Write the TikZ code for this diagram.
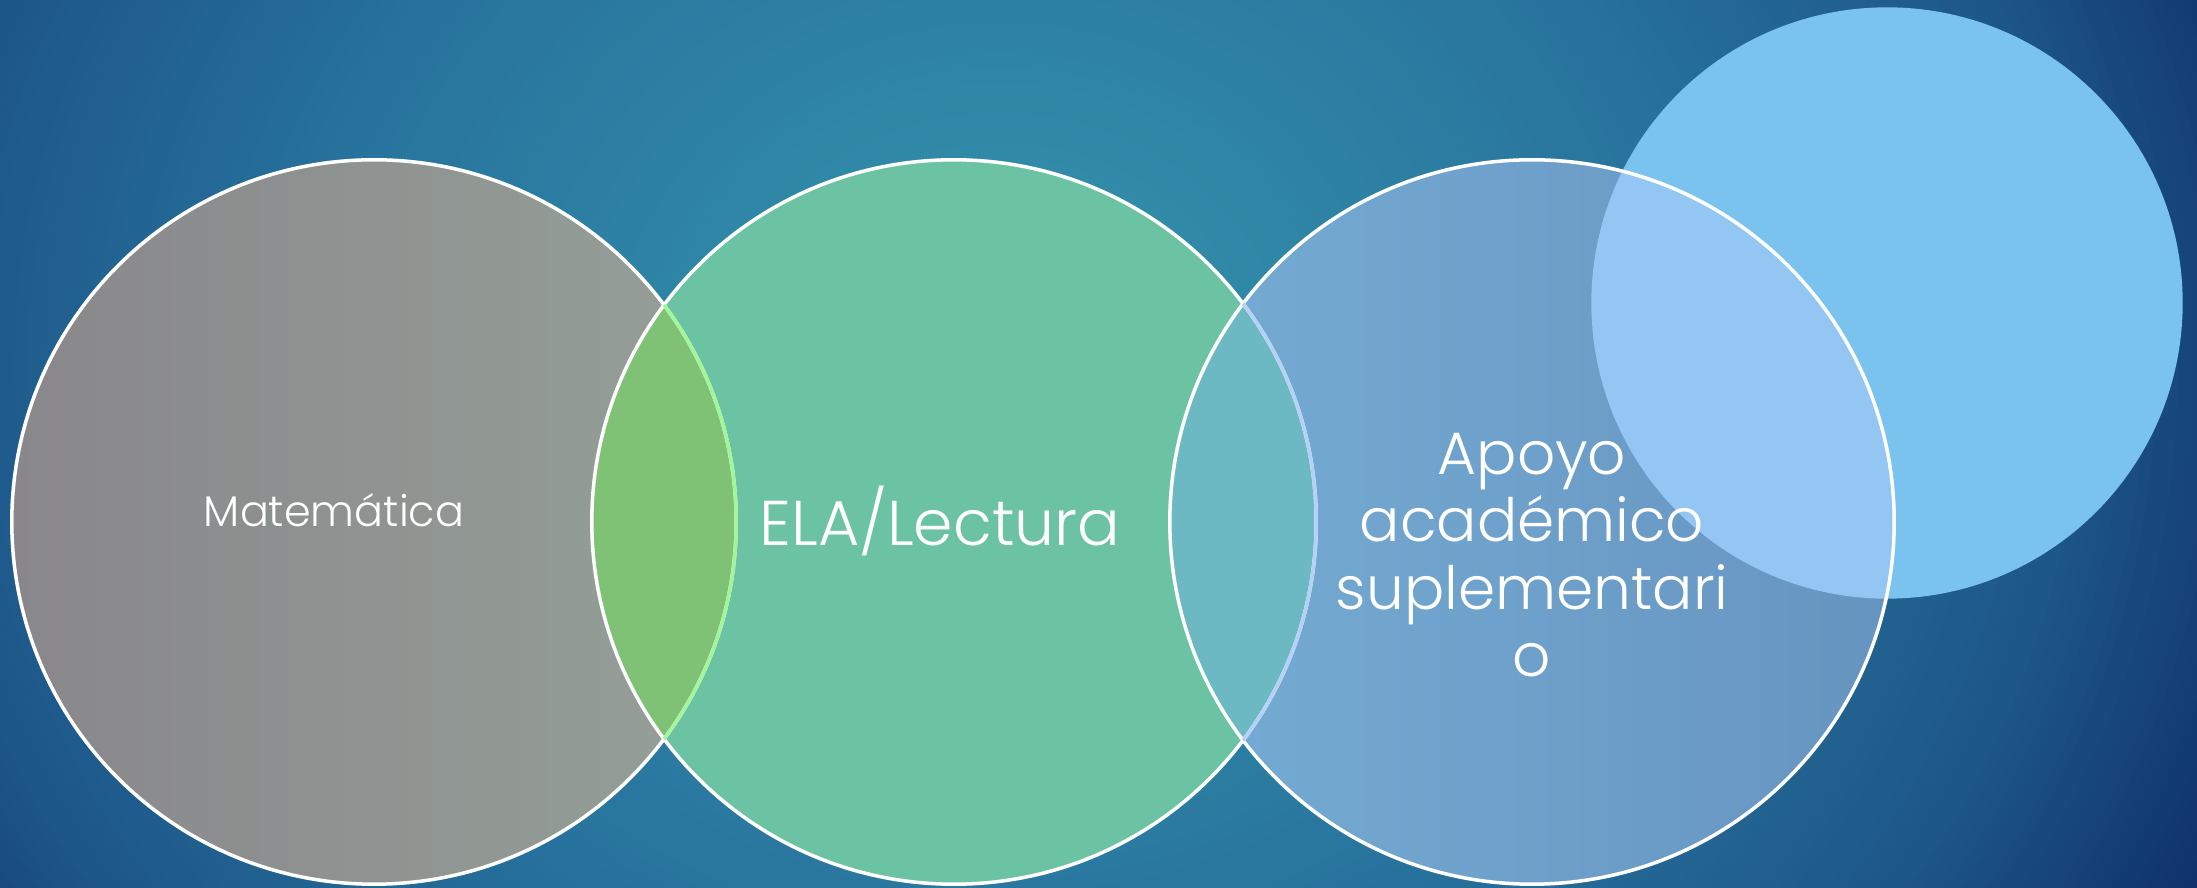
\documentclass[tikz,border=0pt]{standalone}
\usepackage{fontspec}
\newfontfamily\gfont{Poppins}[UprightFont=* Light]
\definecolor{bgout}{HTML}{0F2F69}
\definecolor{bgmid2}{HTML}{1D5688}
\definecolor{bgmid}{HTML}{28749E}
\definecolor{bgin}{HTML}{3596AD}
\definecolor{grayL}{HTML}{89878B}
\definecolor{grayR}{HTML}{95A098}
\definecolor{greenC}{HTML}{6BC3A4}
\definecolor{blueL}{HTML}{75ACD4}
\definecolor{blueR}{HTML}{6694C0}
\definecolor{lightC}{HTML}{7AC3EE}
\definecolor{lensA}{HTML}{80C275}
\definecolor{lensB}{HTML}{6DB9C3}
\definecolor{lensC}{HTML}{93C6F2}
\definecolor{arcA}{HTML}{A3F59A}
\definecolor{arcB}{HTML}{B5D2F5}
\tikzset{
  circ/.style={circle, inner sep=0pt, minimum size=7.24cm},
  ring/.style={white, line width=1pt},
  lbl/.style={text=white, inner sep=0pt, font=\gfont}
}
\begin{document}
\begin{tikzpicture}[x=0.01cm,y=0.01cm]
\useasboundingbox (0,0) rectangle (2197,888);
\fill[bgout] (0,0) rectangle (2197,888);
\begin{scope}
  \clip (0,0) rectangle (2197,888);
  \foreach \i in {0,...,24}{
    \pgfmathsetmacro\f{1-0.2*\i/25}
    \pgfmathsetmacro\t{100*\i/25}
    \pgfmathsetmacro\rx{13.5*\f}
    \pgfmathsetmacro\ry{12*\f}
    \fill[bgmid2!\t!bgout] (1000,520) ellipse [x radius=\rx cm, y radius=\ry cm];
  }
  \foreach \i in {0,...,29}{
    \pgfmathsetmacro\f{0.8-0.3*\i/30}
    \pgfmathsetmacro\t{100*\i/30}
    \pgfmathsetmacro\rx{13.5*\f}
    \pgfmathsetmacro\ry{12*\f}
    \fill[bgmid!\t!bgmid2] (1000,520) ellipse [x radius=\rx cm, y radius=\ry cm];
  }
  \foreach \i in {0,...,39}{
    \pgfmathsetmacro\f{0.5-0.5*\i/40}
    \pgfmathsetmacro\t{100*\i/40}
    \pgfmathsetmacro\rx{13.5*\f}
    \pgfmathsetmacro\ry{12*\f}
    \fill[bgin!\t!bgmid] (1000,520) ellipse [x radius=\rx cm, y radius=\ry cm];
  }
\end{scope}
% light circle (behind)
\node[circle, inner sep=0pt, minimum size=5.91cm, fill=lightC] (c4) at (1887,585) {};
% main circles
\node[circ, left color=grayL, right color=grayR] (c1) at (374,366) {};
\node[circ, fill=greenC] (c2) at (954,366) {};
\node[circ, left color=blueL, right color=blueR] (c3) at (1532,366) {};
% overlaps
\begin{scope}
  \clip (c1.center) circle (3.62cm);
  \fill[lensA] (c2.center) circle (3.62cm);
\end{scope}
\begin{scope}
  \clip (c2.center) circle (3.62cm);
  \fill[lensB] (c3.center) circle (3.62cm);
\end{scope}
\begin{scope}
  \clip (c3.center) circle (3.62cm);
  \fill[lensC] (c4.center) circle (2.955cm);
\end{scope}
% outlines
\draw[ring] (c1.center) circle (3.62cm);
\draw[ring] (c2.center) circle (3.62cm);
\draw[ring] (c3.center) circle (3.62cm);
\begin{scope}
  \clip (c2.center) circle (3.62cm);
  \draw[arcA, line width=1pt] (c1.center) circle (3.62cm);
\end{scope}
\begin{scope}
  \clip (c3.center) circle (3.62cm);
  \draw[arcB, line width=1pt] (c2.center) circle (3.62cm);
\end{scope}
% texts
\node[lbl, anchor=base, font=\gfont\fontsize{12.2}{14}\selectfont] (t1) at (334,361) {Matemática};
\node[lbl, anchor=base, font=\gfont\fontsize{18}{21}\selectfont] (t2) at (940,342) {ELA/Lectura};
\node[lbl, anchor=north, align=center, font=\gfont\fontsize{17}{19.06}\selectfont] (t3) at (1532,455) {Apoyo\\académico\\suplementari\\o};
\end{tikzpicture}
\end{document}
